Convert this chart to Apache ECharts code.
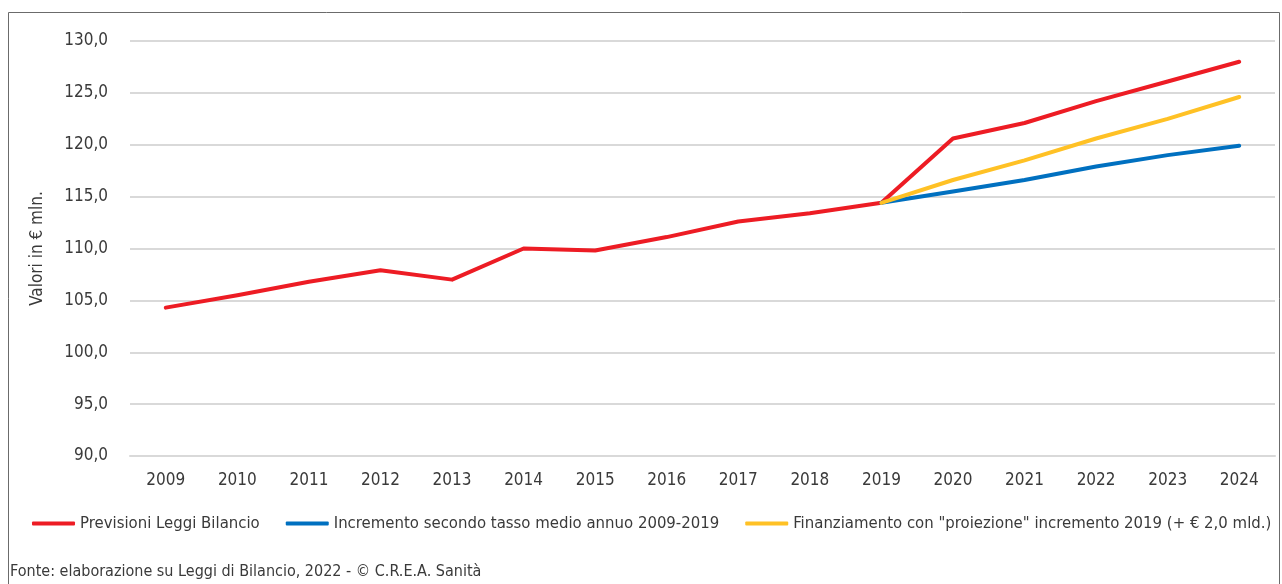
<!DOCTYPE html>
<html>
<head>
<meta charset="utf-8">
<script src="https://cdn.jsdelivr.net/npm/echarts@6/dist/echarts.min.js"></script>
<style>
html, body { margin: 0; padding: 0; background: #fff; }
#container { width: 1282px; height: 584px; }
</style>
</head>
<body>
<div id="container"></div>
<script>
var anni = ['2009', '2010', '2011', '2012', '2013', '2014', '2015', '2016',
	'2017', '2018', '2019', '2020', '2021', '2022', '2023', '2024'];
// Previsioni Leggi Bilancio
var previsioni = [104.3, 105.5, 106.8, 107.9, 107.0, 110.0, 109.8, 111.1,
	112.6, 113.4, 114.4, 120.6, 122.1, 124.2, 126.1, 128.0];
// Incremento secondo tasso medio annuo 2009-2019
var tassoMedio = [null, null, null, null, null, null, null, null,
	null, null, 114.4, 115.5, 116.6, 117.9, 119.0, 119.9];
// Finanziamento con "proiezione" incremento 2019
var proiezione = [null, null, null, null, null, null, null, null,
	null, null, 114.4, 116.6, 118.5, 120.6, 122.5, 124.6];
var yTicks = { min: 90, max: 130, step: 5 };

var font = '"Liberation Sans Narrow", "DejaVu Sans Condensed", "Roboto", sans-serif';

function init() {
	var dom = document.getElementById("container");
	var myChart = echarts.init(dom);
	var option = {
		backgroundColor: '#fff',
		animation: false,
		textStyle: { fontFamily: font },
		grid: { left: 130, right: 7, top: 41, bottom: 128 },
		legend: {
			left: 32,
			top: 515,
			padding: 0,
			width: 1250,
			itemWidth: 43,
			itemHeight: 4,
			itemGap: 26,
			icon: 'roundRect',
			textStyle: { fontFamily: font, fontSize: 16.6, color: '#3a3a3a' },
			data: ['Previsioni Leggi Bilancio', 'Incremento secondo tasso medio annuo 2009-2019',
				'Finanziamento con "proiezione" incremento 2019 (+ € 2,0 mld.)']
		},
		xAxis: {
			type: 'category',
			data: anni,
			boundaryGap: true,
			axisLine: { show: true, lineStyle: { color: '#d9d9d9', width: 2 } },
			axisTick: { show: false },
			axisLabel: { fontFamily: font, fontSize: 17, color: '#3a3a3a', margin: 16 }
		},
		yAxis: {
			type: 'value',
			min: yTicks.min,
			max: yTicks.max,
			interval: yTicks.step,
			name: 'Valori in € mln.',
			nameLocation: 'middle',
			nameGap: 84,
			nameRotate: 90,
			nameTextStyle: { fontFamily: font, fontSize: 17, color: '#3a3a3a' },
			axisLine: { show: false },
			axisTick: { show: false },
			splitLine: { lineStyle: { color: '#d9d9d9', width: 2 } },
			axisLabel: {
				fontFamily: font, fontSize: 17, color: '#3a3a3a', margin: 22,
				formatter: function (v) { return v.toFixed(1).replace('.', ','); }
			}
		},
		series: [
			{
				name: 'Previsioni Leggi Bilancio',
				type: 'line',
				data: previsioni,
				symbol: 'none',
				color: '#ED1C24',
				lineStyle: { width: 4, cap: 'round', join: 'round' }
			},
			{
				name: 'Incremento secondo tasso medio annuo 2009-2019',
				type: 'line',
				data: tassoMedio,
				symbol: 'none',
				color: '#0070C0',
				lineStyle: { width: 4, cap: 'round', join: 'round' }
			},
			{
				name: 'Finanziamento con "proiezione" incremento 2019 (+ € 2,0 mld.)',
				type: 'line',
				data: proiezione,
				symbol: 'none',
				color: '#FFC125',
				lineStyle: { width: 4, cap: 'round', join: 'round' }
			}
		],
		graphic: [
			{
				type: 'rect',
				shape: { x: 8.5, y: 12.5, width: 1271, height: 600 },
				style: { fill: null, stroke: '#6b6b6b', lineWidth: 1 },
				silent: true
			},
			{
				type: 'text',
				left: 10,
				top: 564,
				style: {
					text: 'Fonte: elaborazione su Leggi di Bilancio, 2022 - © C.R.E.A. Sanità',
					font: '16px ' + font,
					fill: '#3a3a3a'
				}
			}
		]
	};
	myChart.setOption(option, true);
}
init();
</script>
</body>
</html>
